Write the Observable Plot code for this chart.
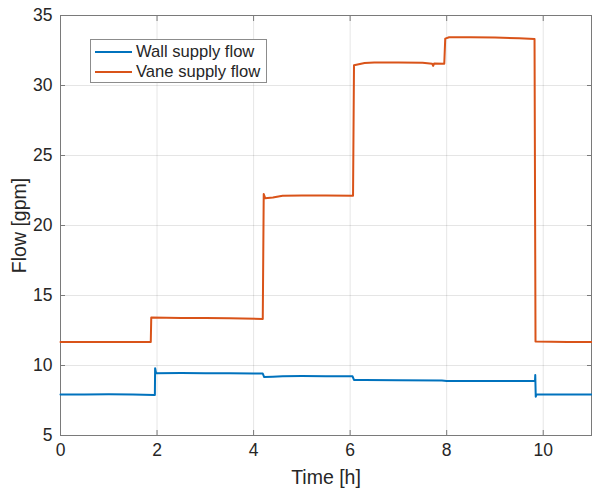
<!DOCTYPE html>
<html>
<head>
<meta charset="utf-8">
<script src="https://cdn.jsdelivr.net/npm/d3@7"></script>
<script src="https://cdn.jsdelivr.net/npm/@observablehq/plot@0.6"></script>
<style>
  html, body { margin: 0; padding: 0; background: #fff; }
  #wrap { position: relative; width: 592px; height: 493px; font-family: "Liberation Sans", Arial, Helvetica, sans-serif; }
  #legend { position: absolute; left: 90px; top: 39px; width: 177px; height: 44px; border: 1px solid #8c8c8c; background: #fff; box-sizing: border-box; color: #262626; font-size: 16.6px; }
  #legend .row { position: absolute; left: 4px; height: 20px; display: flex; align-items: center; }
  #legend .sw { width: 37px; height: 2px; margin-right: 4px; }
</style>
</head>
<body>
<div id="wrap"></div>
<script>
// ---- data ----
const seriesNames = ["Wall supply flow", "Vane supply flow"];
const seriesColors = ["#0072BD", "#D95319"];

const wallTime = [0, 0.5, 1.0, 1.5, 1.94, 1.955, 1.96, 1.98, 2.5, 3.0, 3.5, 4.0, 4.19, 4.22, 4.4, 4.6, 5.0, 5.5, 6.05, 6.08, 6.3, 7.0, 7.9, 8.0, 9.0, 9.83, 9.835, 9.845, 9.86, 10.5, 11];
const wallFlow = [7.93, 7.92, 7.94, 7.93, 7.9, 7.9, 9.8, 9.45, 9.46, 9.45, 9.44, 9.42, 9.42, 9.17, 9.2, 9.24, 9.25, 9.24, 9.23, 8.97, 8.96, 8.95, 8.93, 8.9, 8.9, 8.9, 9.32, 7.77, 7.94, 7.93, 7.93];

const vaneTime = [0, 1.0, 1.87, 1.88, 2.5, 3.0, 3.5, 4.19, 4.21, 4.24, 4.4, 4.6, 5.0, 5.5, 6.06, 6.08, 6.3, 6.5, 7.0, 7.5, 7.7, 7.72, 7.74, 7.95, 7.97, 8.05, 8.5, 9.0, 9.5, 9.82, 9.84, 10.5, 11];
const vaneFlow = [11.68, 11.68, 11.68, 13.43, 13.4, 13.4, 13.38, 13.33, 22.25, 21.95, 22.0, 22.12, 22.15, 22.14, 22.12, 31.45, 31.6, 31.65, 31.65, 31.62, 31.55, 31.4, 31.58, 31.55, 33.35, 33.45, 33.45, 33.42, 33.38, 33.33, 11.72, 11.68, 11.68];

const xTicks = [0, 2, 4, 6, 8, 10];
const yTicks = [5, 10, 15, 20, 25, 30, 35];
const xDomain = [0, 11];
const yDomain = [5, 35];
const xLabel = "Time [h]";
const yLabel = "Flow [gpm]";

const wall = wallTime.map((t, i) => ({t, v: wallFlow[i]}));
const vane = vaneTime.map((t, i) => ({t, v: vaneFlow[i]}));

const axisColor = "#262626";
const lineColor = "#7a7a7a";

const chart = Plot.plot({
  width: 592,
  height: 493,
  marginLeft: 60,
  marginRight: 1,
  marginTop: 15,
  marginBottom: 58,
  style: { fontFamily: '"Liberation Sans", Arial, Helvetica, sans-serif', color: axisColor, background: "#fff", overflow: "visible" },
  x: { domain: xDomain },
  y: { domain: yDomain },
  marks: [
    Plot.gridX(xTicks, { stroke: "#000", strokeOpacity: 0.1 }),
    Plot.gridY(yTicks, { stroke: "#000", strokeOpacity: 0.1 }),
    // inward ticks on all four sides
    Plot.axisX(xTicks, { anchor: "bottom", tickSize: 5, dy: -5, tickFormat: () => "", stroke: lineColor, label: null }),
    Plot.axisX(xTicks, { anchor: "top", tickSize: 5, dy: 5, tickFormat: () => "", stroke: lineColor, label: null }),
    Plot.axisY(yTicks, { anchor: "left", tickSize: 5, dx: 5, tickFormat: () => "", stroke: lineColor, label: null }),
    Plot.axisY(yTicks, { anchor: "right", tickSize: 5, dx: -5, tickFormat: () => "", stroke: lineColor, label: null }),
    // tick labels + axis titles
    Plot.axisX(xTicks, { anchor: "bottom", tickSize: 0, tickPadding: 8, fontSize: 17.5, fill: axisColor,
      label: xLabel, labelAnchor: "center", labelOffset: 48, labelArrow: false }),
    Plot.axisY(yTicks, { anchor: "left", tickSize: 0, tickPadding: 8, fontSize: 17.5, fill: axisColor,
      label: yLabel, labelAnchor: "center", labelOffset: 48, labelArrow: false }),
    Plot.frame({ stroke: lineColor, strokeWidth: 1 }),
    Plot.line(wall, { x: "t", y: "v", stroke: seriesColors[0], strokeWidth: 2 }),
    Plot.line(vane, { x: "t", y: "v", stroke: seriesColors[1], strokeWidth: 2 })
  ]
});

// enlarge axis-title font
chart.querySelectorAll("[aria-label='x-axis label'] text, [aria-label='y-axis label'] text").forEach(t => t.setAttribute("font-size", "19.5"));

const wrap = document.getElementById("wrap");
wrap.appendChild(chart);

const legend = document.createElement("div");
legend.id = "legend";
seriesNames.forEach((name, i) => {
  const row = document.createElement("div");
  row.className = "row";
  row.style.top = (i === 0 ? 2 : 21.5) + "px";
  const sw = document.createElement("span");
  sw.className = "sw";
  sw.style.background = seriesColors[i];
  const lab = document.createElement("span");
  lab.textContent = name;
  row.appendChild(sw);
  row.appendChild(lab);
  legend.appendChild(row);
});
wrap.appendChild(legend);
</script>
</body>
</html>
